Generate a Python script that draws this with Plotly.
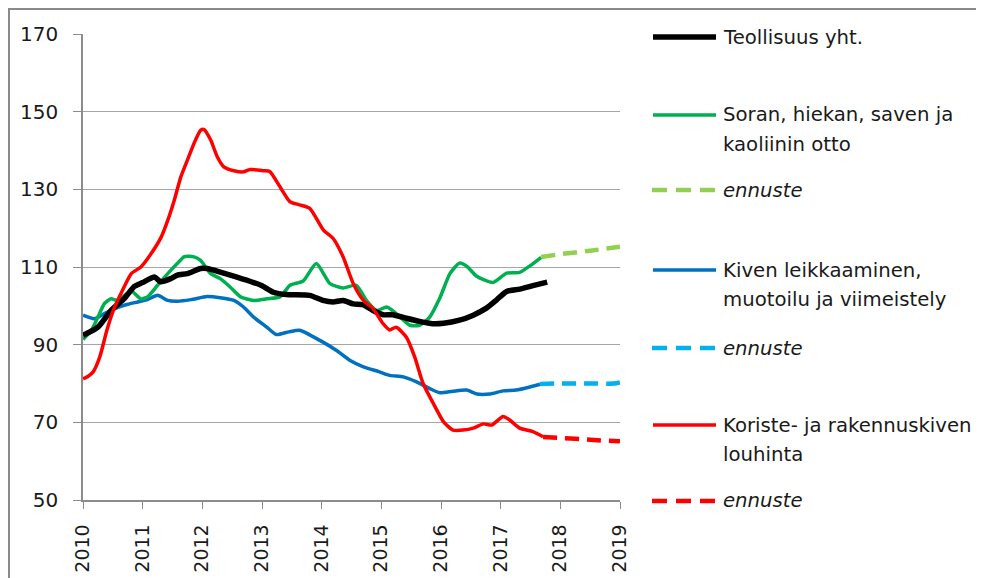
import plotly.graph_objects as go

# ---------------- data (decimal years) ----------------
teol_x = [2010.0, 2010.25, 2010.47, 2010.7, 2010.86, 2011.0, 2011.2, 2011.3, 2011.47, 2011.58,
          2011.75, 2011.97, 2012.08, 2012.3, 2012.58, 2012.86, 2013.0, 2013.19, 2013.41, 2013.8,
          2014.02, 2014.19, 2014.36, 2014.53, 2014.69, 2014.86, 2015.03, 2015.19, 2015.42, 2015.64,
          2015.86, 2016.04, 2016.31, 2016.54, 2016.76, 2016.93, 2017.1, 2017.32, 2017.54, 2017.78]
teol_y = [92.4, 94.5, 98.8, 102, 105, 106, 107.4, 106.2, 107, 107.9,
          108.3, 109.6, 109.6, 108.7, 107.4, 106, 105.2, 103.5, 102.9, 102.7,
          101.4, 101, 101.4, 100.5, 100.3, 98.8, 97.7, 97.7, 96.8, 96,
          95.4, 95.5, 96.3, 97.6, 99.4, 101.5, 103.7, 104.3, 105.2, 106.1]

soran_x = [2010.0, 2010.14, 2010.25, 2010.36, 2010.47, 2010.58, 2010.75, 2010.83, 2010.97, 2011.08,
           2011.25, 2011.42, 2011.58, 2011.7, 2011.86, 2011.97, 2012.14, 2012.3, 2012.47, 2012.64,
           2012.86, 2013.08, 2013.3, 2013.47, 2013.69, 2013.91, 2014.14, 2014.36, 2014.58, 2014.75,
           2014.92, 2015.09, 2015.25, 2015.48, 2015.64, 2015.81, 2015.98, 2016.15, 2016.31, 2016.43,
           2016.6, 2016.87, 2017.1, 2017.32, 2017.49, 2017.68]
soran_y = [91.3, 93.7, 97.1, 100.6, 101.8, 101.4, 103.3, 103.6, 101.8, 102.3,
           105.3, 108.3, 110.9, 112.7, 112.6, 111.7, 108.3, 107, 104.8, 102.3,
           101.4, 101.8, 102.3, 105.3, 106.4, 110.9, 105.7, 104.6, 105.3, 101.4,
           98.8, 99.7, 98, 95, 95, 97.1, 102, 108.3, 111, 110.2,
           107.6, 106, 108.4, 108.6, 110.3, 112.5]
soran_f_x = [2017.68, 2018.0, 2018.5, 2019.0]
soran_f_y = [112.6, 113.3, 114.2, 115.2]

kiven_x = [2010.0, 2010.19, 2010.36, 2010.53, 2010.75, 2010.92, 2011.08, 2011.25, 2011.42, 2011.58,
           2011.81, 2012.08, 2012.3, 2012.53, 2012.69, 2012.86, 2013.08, 2013.24, 2013.45, 2013.63,
           2013.97, 2014.25, 2014.47, 2014.7, 2014.97, 2015.14, 2015.37, 2015.59, 2015.81, 2015.98,
           2016.2, 2016.43, 2016.6, 2016.82, 2017.04, 2017.26, 2017.49, 2017.66]
kiven_y = [97.6, 96.7, 98, 99.3, 100.4, 101, 101.6, 102.7, 101.4, 101.2,
           101.6, 102.4, 102.1, 101.4, 99.7, 97.1, 94.5, 92.6, 93.3, 93.7,
           91.1, 88.5, 86, 84.3, 83, 82.1, 81.7, 80.4, 78.7, 77.6,
           78, 78.3, 77.3, 77.3, 78.1, 78.3, 79.1, 79.8]
kiven_f_x = [2017.66, 2018.0, 2018.5, 2018.9, 2019.0]
kiven_f_y = [79.9, 80.0, 80.0, 80.0, 80.3]

kor_x = [2010.0, 2010.08, 2010.17, 2010.28, 2010.4, 2010.51, 2010.64, 2010.81, 2010.97, 2011.14,
         2011.31, 2011.42, 2011.53, 2011.64, 2011.75, 2011.86, 2011.97, 2012.03, 2012.14, 2012.25,
         2012.36, 2012.53, 2012.69, 2012.8, 2013.03, 2013.13, 2013.3, 2013.47, 2013.63, 2013.8,
         2014.03, 2014.19, 2014.36, 2014.53, 2014.7, 2014.86, 2015.03, 2015.14, 2015.25, 2015.42,
         2015.56, 2015.7, 2015.87, 2016.04, 2016.2, 2016.37, 2016.54, 2016.71, 2016.85, 2017.04,
         2017.15, 2017.32, 2017.54, 2017.71]
kor_y = [81.2, 81.8, 83, 86.8, 93.7, 98.9, 103.3, 108.3, 110, 113.4,
         117.7, 122, 127.2, 133.2, 137.5, 141.8, 145.2, 145.4, 142.7, 138.4,
         135.8, 134.8, 134.5, 135.1, 134.8, 134.6, 130.7, 126.8, 126, 125.1,
         119.5, 117.4, 112.6, 105.7, 101.4, 99.3, 95.4, 93.8, 94.5, 91.9,
         86.8, 80, 74.9, 70.2, 68, 68, 68.5, 69.6, 69.3, 71.5,
         70.6, 68.5, 67.6, 66.3]
kor_f_x = [2017.71, 2018.0, 2018.5, 2019.0]
kor_f_y = [66.2, 66.0, 65.5, 65.1]

year_ticks = [2010, 2011, 2012, 2013, 2014, 2015, 2016, 2017, 2018, 2019]
year_labels = [str(y) for y in year_ticks]
y_ticks = [50, 70, 90, 110, 130, 150, 170]

# legend entries: (text lines, colour, style, width)
legend_items = [
    (["Teollisuus yht."], "#000000", "solid", 5.5),
    (["Soran, hiekan, saven ja", "kaoliinin otto"], "#00B050", "solid", 3.5),
    (["<i>ennuste</i>"], "#92D050", "dash", 4.5),
    (["Kiven leikkaaminen,", "muotoilu ja viimeistely"], "#0070C0", "solid", 3.5),
    (["<i>ennuste</i>"], "#00B0F0", "dash", 4.5),
    (["Koriste- ja rakennuskiven", "louhinta"], "#FF0000", "solid", 3.5),
    (["<i>ennuste</i>"], "#FF0000", "dash", 4.5),
]
legend_row_y = [37, 115, 190, 270, 348, 425, 501]   # page pixel rows
LINE_GAP = 29

# ---------------- layout geometry (page pixels; body has 8px margin) ----------------
OFF = 8
W, H = 984 - OFF, 578 - OFF
L, R, T, B = 83, 620, 34, 500          # plot area in page pixels


def px(x):
    return (x - L) / (R - L)


def py(y):
    return (B - y) / (B - T)


FONT = "'DejaVu Sans', Verdana, sans-serif"
DASH = "14px,8px"

fig = go.Figure()


def add(x, y, color, width, dash="solid"):
    fig.add_trace(go.Scatter(x=x, y=y, mode="lines", showlegend=False, hoverinfo="skip",
                             line=dict(color=color, width=width, dash=dash,
                                       shape="spline", smoothing=0.6)))


add(kiven_x, kiven_y, "#0070C0", 3.5)
add(kiven_f_x, kiven_f_y, "#00B0F0", 4.5, DASH)
add(soran_x, soran_y, "#00B050", 3.5)
add(soran_f_x, soran_f_y, "#92D050", 4.5, DASH)
add(teol_x, teol_y, "#000000", 5.5)
add(kor_x, kor_y, "#FF0000", 3.5)
add(kor_f_x, kor_f_y, "#FF0000", 4.5, DASH)

shapes = [
    # outer chart border
    dict(type="rect", xref="paper", yref="paper",
         x0=px(9), x1=px(1000), y0=py(9), y1=py(600),
         line=dict(color="#8A8A8A", width=2), fillcolor="rgba(0,0,0,0)", layer="below"),
]
annotations = []
for (lines, color, style, width), ly in zip(legend_items, legend_row_y):
    if style == "solid":
        shapes.append(dict(type="line", xref="paper", yref="paper",
                           x0=px(653), x1=px(716), y0=py(ly), y1=py(ly),
                           line=dict(color=color, width=width)))
    else:
        for k in range(3):
            x0 = 652 + k * 24
            shapes.append(dict(type="line", xref="paper", yref="paper",
                               x0=px(x0), x1=px(x0 + 15), y0=py(ly), y1=py(ly),
                               line=dict(color=color, width=width)))
    for i, txt in enumerate(lines):
        annotations.append(dict(xref="paper", yref="paper", x=px(721), y=py(ly + i * LINE_GAP),
                                xanchor="left", yanchor="middle", align="left",
                                text=txt, showarrow=False,
                                font=dict(family=FONT, size=19.7, color="#1a1a1a")))

fig.update_layout(
    width=W, height=H,
    margin=dict(l=L - OFF, r=W - (R - OFF), t=T - OFF, b=H - (B - OFF), pad=0,
                autoexpand=False),
    paper_bgcolor="white", plot_bgcolor="white",
    font=dict(family=FONT, size=19, color="#1a1a1a"),
    shapes=shapes, annotations=annotations,
    xaxis=dict(range=[2010, 2019], tickvals=year_ticks, ticktext=year_labels,
               tickangle=-90, ticks="outside", ticklen=7, tickcolor="#8C8C8C",
               showline=True, linecolor="#8C8C8C", linewidth=1.5, automargin=False,
               showgrid=False, zeroline=False, ticklabelstandoff=8,
               tickfont=dict(family=FONT, size=19, color="#1a1a1a")),
    yaxis=dict(range=[50, 170], tickvals=y_ticks, ticks="outside", ticklen=8,
               tickcolor="#8C8C8C", showline=True, linecolor="#8C8C8C", linewidth=1.5,
               showgrid=True, gridcolor="#A6A6A6", gridwidth=1.2, zeroline=False,
               ticklabelstandoff=11, automargin=False,
               tickfont=dict(family=FONT, size=20, color="#1a1a1a")),
)

fig.write_html("out.html")
